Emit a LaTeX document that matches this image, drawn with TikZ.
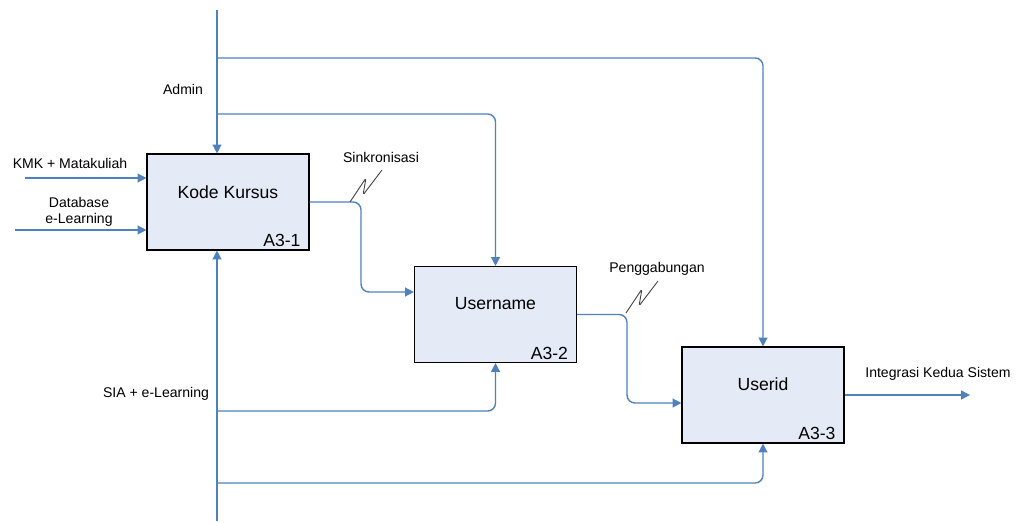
\documentclass[tikz,border=0pt]{standalone}
\usepackage{fontspec}
\setmainfont{Liberation Sans}
\usetikzlibrary{arrows.meta}
\definecolor{lineblue}{RGB}{79,129,189}
\definecolor{boxfill}{RGB}{228,234,246}
\tikzset{
  proc/.style={draw=black, line width=0.65pt, fill=boxfill, minimum width=162*0.02cm, minimum height=96*0.02cm, inner sep=0pt},
  ttl/.style={font=\fontsize{10}{12}\selectfont, inner sep=0pt},
  code/.style={font=\fontsize{10}{12}\selectfont, inner sep=0pt, anchor=south east},
  lbl/.style={font=\fontsize{8}{9.5}\selectfont, inner sep=0pt, align=center},
  flow/.style={draw=lineblue, line width=0.8pt, rounded corners=4.5pt, -{Triangle[length=5pt,width=5pt]}},
  squig/.style={draw=black!75, line width=0.5pt, rounded corners=1pt}
}
\begin{document}
\begin{tikzpicture}[x=0.02cm,y=-0.02cm]
\useasboundingbox (0,0) rectangle (1017,523);
% boxes
\node[proc] (b1) at (228,202) {};
\node[proc] (b2) at (495.5,314.5) {};
\node[proc] (b3) at (763,395) {};
\node[ttl] (t1) at ([yshift=5.5pt]b1.center) {Kode Kursus};
\node[ttl] (t2) at ([yshift=6pt]b2.center) {Username};
\node[ttl] (t3) at ([yshift=6pt]b3.center) {Userid};
\node[code] (c1) at ([xshift=-5pt,yshift=2pt]b1.south east) {A3-1};
\node[code] (c2) at ([xshift=-5pt,yshift=2pt]b2.south east) {A3-2};
\node[code] (c3) at ([xshift=-5pt,yshift=2pt]b3.south east) {A3-3};
% coordinates
\coordinate (adm) at (217,10);
\coordinate (j1) at (217,58);
\coordinate (j2) at (217,114);
\coordinate (kmk) at (25,178);
\coordinate (db) at (15,230);
\coordinate (sia) at (217,521);
\coordinate (s1) at (217,411);
\coordinate (s2) at (217,483);
\coordinate (k1) at (361,292);
\coordinate (k2) at (627,403);
\coordinate (out) at (970,395);
% admin control
\draw[flow] (adm) -- (adm |- b1.north);
\draw[flow] (j1) -| (b3.north);
\draw[flow] (j2) -| (b2.north);
% inputs
\draw[flow] (kmk) -- (kmk -| b1.west);
\draw[flow] (db) -- (db -| b1.west);
% flows between boxes
\draw[flow] (b1.east) -| (k1) -- (k1 -| b2.west);
\draw[flow] (b2.east) -| (k2) -- (k2 -| b3.west);
\draw[flow] (b3.east) -- (out |- b3.east);
% mechanism
\draw[flow] (sia) -- (sia |- b1.south);
\draw[flow] (s1) -| (b2.south);
\draw[flow] (s2) -| (b3.south);
% squiggles
\draw[squig] (350,202) -- (366,178) -- (363,195) -- (382,170);
\draw[squig] (626,313) -- (642,289) -- (639,306) -- (658,281);
% labels
\node[lbl] (ladm) at (183,89) {Admin};
\node[lbl] (lkmk) at (70,163) {KMK + Matakuliah};
\node[lbl] (ldb) at (79,212) {Database\\e-Learning};
\node[lbl] (lsin) at (381,157) {Sinkronisasi};
\node[lbl] (lpen) at (657,269) {Penggabungan};
\node[lbl] (lint) at (938,374) {Integrasi Kedua Sistem};
\node[lbl] (lsia) at (156,394) {SIA + e-Learning};
\end{tikzpicture}
\end{document}
